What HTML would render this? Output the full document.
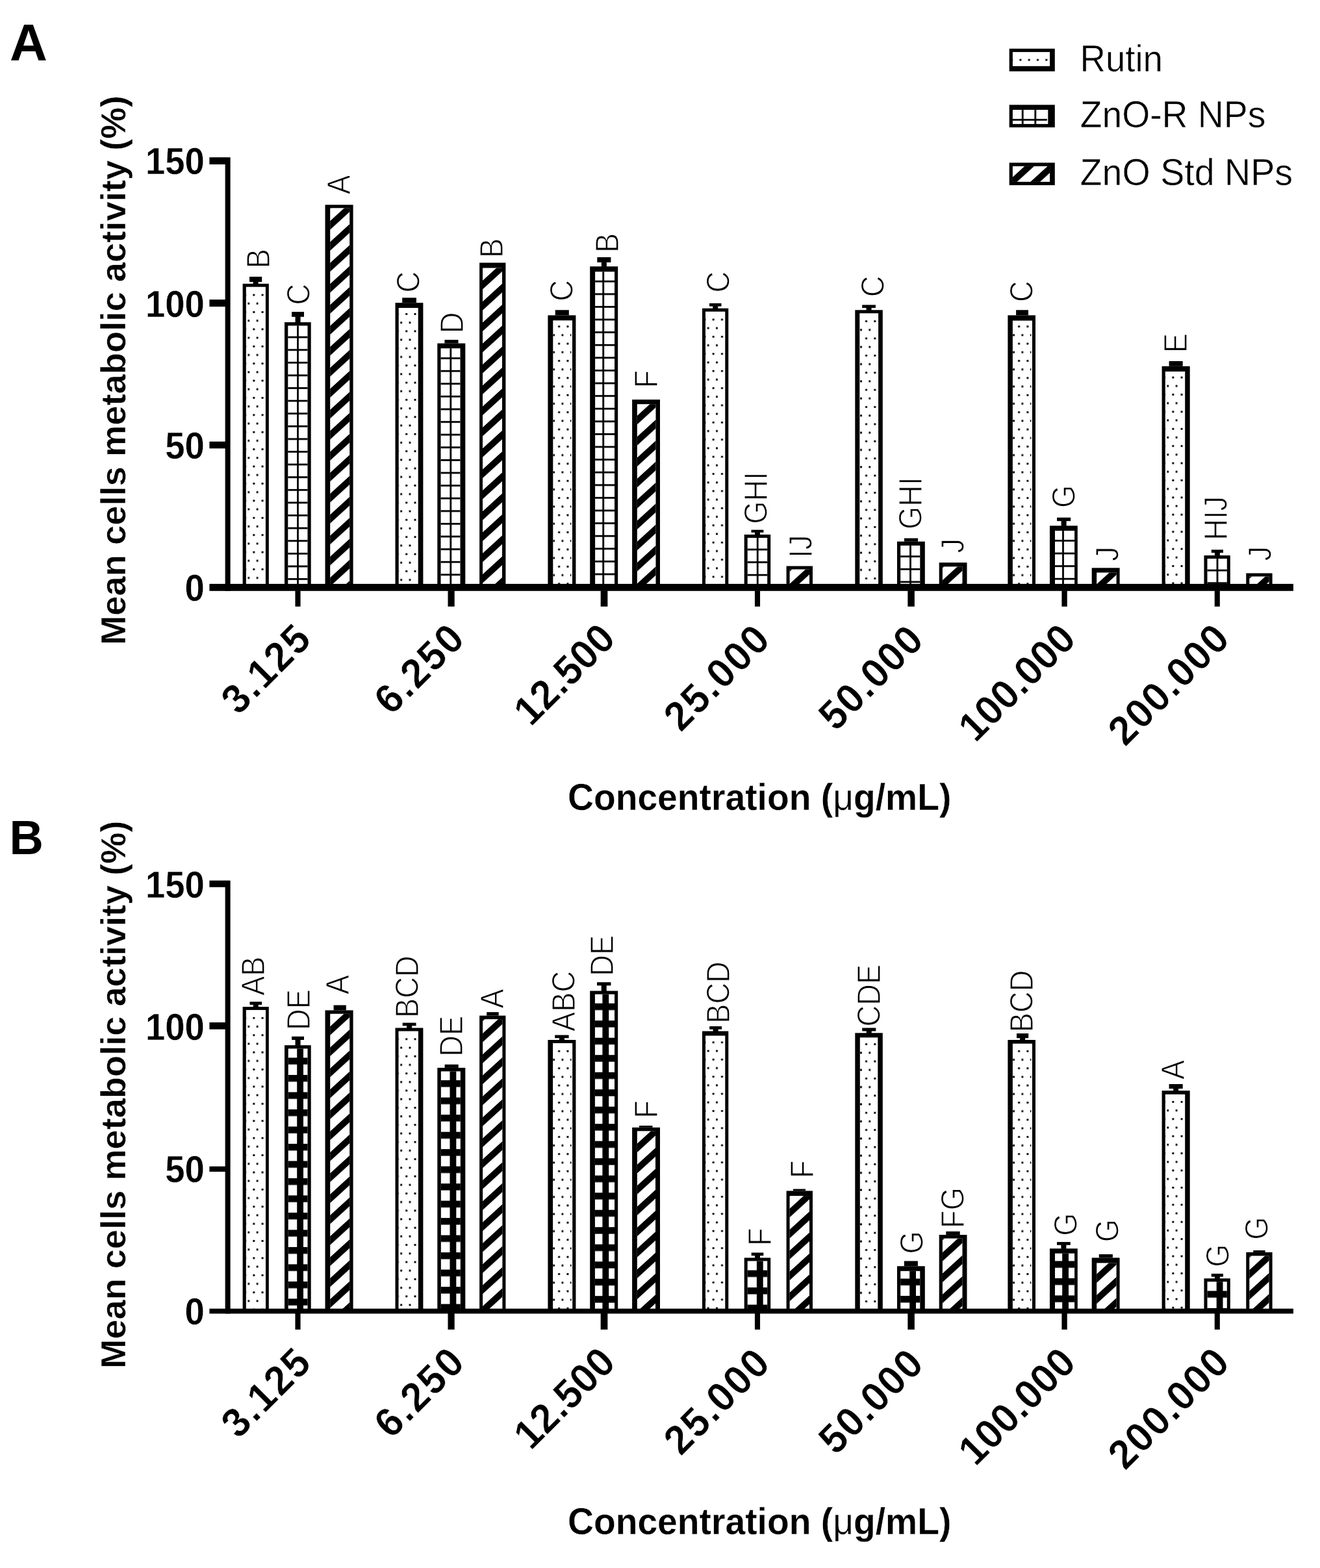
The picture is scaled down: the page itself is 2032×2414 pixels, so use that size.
<!DOCTYPE html>
<html lang="en"><head><meta charset="utf-8"><title>Mean cells metabolic activity</title>
<style>
html,body{margin:0;padding:0;background:#fff}
body{width:2032px;height:2414px;overflow:hidden}
svg{display:block}
text{fill:#000}
</style></head><body>
<svg width="2032" height="2414" viewBox="0 0 2032 2414">
<defs>
<pattern id="dots" patternUnits="userSpaceOnUse" x="7.75" y="15.85" width="13.3" height="26.4">
<rect x="8" y="0" width="2.9" height="2.9" fill="#000"/>
<rect x="0" y="13.2" width="2.9" height="2.9" fill="#000"/>
</pattern>
<pattern id="gridA" patternUnits="userSpaceOnUse" x="-0.5" y="2" width="19.6" height="19.6">
<rect x="0" y="0" width="2.8" height="19.6" fill="#000"/>
<rect x="0" y="0" width="19.6" height="2.8" fill="#000"/>
</pattern>
<pattern id="gridB" patternUnits="userSpaceOnUse" x="19.2" y="19.2" width="26.5" height="26.5">
<rect x="0" y="0" width="9.8" height="26.5" fill="#000"/>
<rect x="0" y="0" width="26.5" height="10.4" fill="#000"/>
</pattern>
<pattern id="hatch" patternUnits="userSpaceOnUse" x="0" y="-0.4" width="60" height="32.3" patternTransform="skewY(-42.4)">
<rect x="-1" y="0" width="62" height="13.4" fill="#000"/>
</pattern>
</defs>
<rect x="0" y="0" width="2032" height="2414" fill="#fff"/>

<text transform="translate(15.00,93.40) scale(1.069,1.055)" style="font-family:&quot;Liberation Sans&quot;,Arial,sans-serif;font-weight:bold;font-size:75px">A</text>
<text transform="translate(14.41,1314.60) scale(0.966,0.989)" style="font-family:&quot;Liberation Sans&quot;,Arial,sans-serif;font-weight:bold;font-size:75px">B</text>
<rect x="373.60" y="436.80" width="40.20" height="463.10" fill="#000" />
<rect x="378.80" y="441.70" width="30.10" height="458.20" fill="#fff" />
<g transform="translate(373.60,436.80)"><rect x="5.20" y="7.30" width="28.50" height="455.80" fill="url(#dots)"/></g>
<rect x="384.00" y="426.00" width="19.20" height="8.00" fill="#000" />
<rect x="389.60" y="433.50" width="8.00" height="3.80" fill="#000" />
<text transform="translate(414.70,413.15) rotate(-90) scale(1,1.085)" style="font-family:&quot;Liberation Sans&quot;,Arial,sans-serif;font-weight:normal;font-size:45.3px;stroke:#fff;stroke-width:1.1px;stroke-linejoin:round">B</text>
<rect x="438.00" y="496.10" width="40.70" height="403.80" fill="#000" />
<rect x="443.30" y="501.40" width="30.20" height="398.50" fill="#fff" />
<g transform="translate(438.00,496.10)"><rect x="5.30" y="5.30" width="30.20" height="398.50" fill="url(#gridA)"/></g>
<rect x="449.10" y="480.10" width="18.90" height="7.70" fill="#000" />
<rect x="454.55" y="487.30" width="8.00" height="9.30" fill="#000" />
<text transform="translate(476.90,469.39) rotate(-90) scale(1,1.085)" style="font-family:&quot;Liberation Sans&quot;,Arial,sans-serif;font-weight:normal;font-size:45.3px;stroke:#fff;stroke-width:1.1px;stroke-linejoin:round">C</text>
<rect x="500.50" y="315.30" width="43.10" height="584.60" fill="#000" />
<rect x="508.20" y="320.30" width="30.00" height="579.60" fill="#fff" />
<g transform="translate(500.50,315.30)"><rect x="7.70" y="5.00" width="30.00" height="579.60" fill="url(#hatch)"/></g>
<text transform="translate(538.90,299.22) rotate(-90) scale(1,1.085)" style="font-family:&quot;Liberation Sans&quot;,Arial,sans-serif;font-weight:normal;font-size:45.3px;stroke:#fff;stroke-width:1.1px;stroke-linejoin:round">A</text>
<rect x="608.50" y="466.20" width="42.90" height="433.70" fill="#000" />
<rect x="613.70" y="474.00" width="30.00" height="425.90" fill="#fff" />
<g transform="translate(608.50,466.20)"><rect x="5.20" y="7.80" width="28.40" height="425.90" fill="url(#dots)"/></g>
<rect x="619.20" y="458.40" width="21.70" height="7.80" fill="#000" />
<text transform="translate(646.35,450.54) rotate(-90) scale(1,1.085)" style="font-family:&quot;Liberation Sans&quot;,Arial,sans-serif;font-weight:normal;font-size:45.3px;stroke:#fff;stroke-width:1.1px;stroke-linejoin:round">C</text>
<rect x="673.30" y="528.60" width="43.00" height="371.30" fill="#000" />
<rect x="678.50" y="536.30" width="30.00" height="363.60" fill="#fff" />
<g transform="translate(673.30,528.60)"><rect x="5.20" y="7.70" width="30.00" height="363.60" fill="url(#gridA)"/></g>
<rect x="684.40" y="523.20" width="21.10" height="5.40" fill="#000" />
<text transform="translate(713.20,513.31) rotate(-90) scale(1,1.085)" style="font-family:&quot;Liberation Sans&quot;,Arial,sans-serif;font-weight:normal;font-size:45.3px;stroke:#fff;stroke-width:1.1px;stroke-linejoin:round">D</text>
<rect x="738.10" y="404.50" width="40.30" height="495.40" fill="#000" />
<rect x="743.00" y="412.50" width="30.00" height="487.40" fill="#fff" />
<g transform="translate(738.10,404.50)"><rect x="4.90" y="8.00" width="30.00" height="487.40" fill="url(#hatch)"/></g>
<text transform="translate(774.45,397.05) rotate(-90) scale(1,1.085)" style="font-family:&quot;Liberation Sans&quot;,Arial,sans-serif;font-weight:normal;font-size:45.3px;stroke:#fff;stroke-width:1.1px;stroke-linejoin:round">B</text>
<rect x="843.40" y="485.40" width="43.00" height="414.50" fill="#000" />
<rect x="851.30" y="493.30" width="29.70" height="406.60" fill="#fff" />
<g transform="translate(843.40,485.40)"><rect x="7.90" y="7.90" width="28.10" height="406.60" fill="url(#dots)"/></g>
<rect x="854.70" y="477.30" width="21.10" height="8.10" fill="#000" />
<text transform="translate(882.30,463.64) rotate(-90) scale(1,1.085)" style="font-family:&quot;Liberation Sans&quot;,Arial,sans-serif;font-weight:normal;font-size:45.3px;stroke:#fff;stroke-width:1.1px;stroke-linejoin:round">C</text>
<rect x="908.20" y="410.20" width="43.00" height="489.70" fill="#000" />
<rect x="916.10" y="418.30" width="29.90" height="481.60" fill="#fff" />
<g transform="translate(908.20,410.20)"><rect x="7.90" y="8.10" width="29.90" height="481.60" fill="url(#gridA)"/></g>
<rect x="919.30" y="396.00" width="21.10" height="7.90" fill="#000" />
<rect x="925.85" y="403.40" width="8.00" height="7.30" fill="#000" />
<text transform="translate(952.05,389.00) rotate(-90) scale(1,1.085)" style="font-family:&quot;Liberation Sans&quot;,Arial,sans-serif;font-weight:normal;font-size:45.3px;stroke:#fff;stroke-width:1.1px;stroke-linejoin:round">B</text>
<rect x="973.10" y="615.20" width="42.90" height="284.70" fill="#000" />
<rect x="980.80" y="622.20" width="28.70" height="277.70" fill="#fff" />
<g transform="translate(973.10,615.20)"><rect x="7.70" y="7.00" width="28.70" height="277.70" fill="url(#hatch)"/></g>
<text transform="translate(1011.55,597.48) rotate(-90) scale(1,1.085)" style="font-family:&quot;Liberation Sans&quot;,Arial,sans-serif;font-weight:normal;font-size:45.3px;stroke:#fff;stroke-width:1.1px;stroke-linejoin:round">F</text>
<rect x="1081.00" y="474.70" width="40.30" height="425.20" fill="#000" />
<rect x="1086.00" y="479.70" width="30.30" height="420.20" fill="#fff" />
<g transform="translate(1081.00,474.70)"><rect x="5.00" y="7.30" width="28.70" height="417.90" fill="url(#dots)"/></g>
<rect x="1092.00" y="466.90" width="18.50" height="4.70" fill="#000" />
<rect x="1097.25" y="471.10" width="8.00" height="4.10" fill="#000" />
<text transform="translate(1122.85,450.54) rotate(-90) scale(1,1.085)" style="font-family:&quot;Liberation Sans&quot;,Arial,sans-serif;font-weight:normal;font-size:45.3px;stroke:#fff;stroke-width:1.1px;stroke-linejoin:round">C</text>
<rect x="1145.70" y="823.00" width="40.50" height="76.90" fill="#000" />
<rect x="1150.70" y="828.00" width="30.50" height="71.90" fill="#fff" />
<g transform="translate(1145.70,823.00)"><rect x="5.00" y="5.00" width="30.50" height="71.90" fill="url(#gridA)"/></g>
<rect x="1156.50" y="815.70" width="18.90" height="4.10" fill="#000" />
<rect x="1161.95" y="819.30" width="8.00" height="4.20" fill="#000" />
<text transform="translate(1180.90,806.85) rotate(-90) scale(1,1.085)" style="font-family:&quot;Liberation Sans&quot;,Arial,sans-serif;font-weight:normal;font-size:45.3px;stroke:#fff;stroke-width:1.1px;stroke-linejoin:round">GHI</text>
<rect x="1210.60" y="871.50" width="40.40" height="28.40" fill="#000" />
<rect x="1215.60" y="876.50" width="30.40" height="23.40" fill="#fff" />
<g transform="translate(1210.60,871.50)"><rect x="5.00" y="5.00" width="30.40" height="23.40" fill="url(#hatch)"/></g>
<text transform="translate(1250.30,858.76) rotate(-90) scale(1,1.085)" style="font-family:&quot;Liberation Sans&quot;,Arial,sans-serif;font-weight:normal;font-size:45.3px;stroke:#fff;stroke-width:1.1px;stroke-linejoin:round">IJ</text>
<rect x="1316.30" y="477.30" width="42.50" height="422.60" fill="#000" />
<rect x="1323.30" y="482.30" width="28.80" height="417.60" fill="#fff" />
<g transform="translate(1316.30,477.30)"><rect x="7.00" y="7.30" width="27.20" height="415.30" fill="url(#dots)"/></g>
<rect x="1327.20" y="469.40" width="20.70" height="4.70" fill="#000" />
<rect x="1333.55" y="473.60" width="8.00" height="4.20" fill="#000" />
<text transform="translate(1360.75,457.14) rotate(-90) scale(1,1.085)" style="font-family:&quot;Liberation Sans&quot;,Arial,sans-serif;font-weight:normal;font-size:45.3px;stroke:#fff;stroke-width:1.1px;stroke-linejoin:round">C</text>
<rect x="1381.00" y="833.70" width="42.80" height="66.20" fill="#000" />
<rect x="1386.20" y="839.90" width="30.10" height="60.00" fill="#fff" />
<g transform="translate(1381.00,833.70)"><rect x="5.20" y="6.20" width="30.10" height="60.00" fill="url(#gridA)"/></g>
<rect x="1392.00" y="828.60" width="21.10" height="5.10" fill="#000" />
<text transform="translate(1419.15,814.90) rotate(-90) scale(1,1.085)" style="font-family:&quot;Liberation Sans&quot;,Arial,sans-serif;font-weight:normal;font-size:45.3px;stroke:#fff;stroke-width:1.1px;stroke-linejoin:round">GHI</text>
<rect x="1445.70" y="866.10" width="42.80" height="33.80" fill="#000" />
<rect x="1450.90" y="872.30" width="30.60" height="27.60" fill="#fff" />
<g transform="translate(1445.70,866.10)"><rect x="5.20" y="6.20" width="30.60" height="27.60" fill="url(#hatch)"/></g>
<text transform="translate(1484.10,851.52) rotate(-90) scale(1,1.085)" style="font-family:&quot;Liberation Sans&quot;,Arial,sans-serif;font-weight:normal;font-size:45.3px;stroke:#fff;stroke-width:1.1px;stroke-linejoin:round">J</text>
<rect x="1551.40" y="485.40" width="42.60" height="414.50" fill="#000" />
<rect x="1558.90" y="493.60" width="30.10" height="406.30" fill="#fff" />
<g transform="translate(1551.40,485.40)"><rect x="7.50" y="8.20" width="28.50" height="406.30" fill="url(#dots)"/></g>
<rect x="1564.10" y="477.30" width="18.90" height="8.10" fill="#000" />
<text transform="translate(1590.00,465.04) rotate(-90) scale(1,1.085)" style="font-family:&quot;Liberation Sans&quot;,Arial,sans-serif;font-weight:normal;font-size:45.3px;stroke:#fff;stroke-width:1.1px;stroke-linejoin:round">C</text>
<rect x="1616.00" y="809.40" width="42.80" height="90.50" fill="#000" />
<rect x="1624.00" y="817.10" width="30.10" height="82.80" fill="#fff" />
<g transform="translate(1616.00,809.40)"><rect x="8.00" y="7.70" width="30.10" height="82.80" fill="url(#gridA)"/></g>
<rect x="1627.10" y="796.80" width="21.10" height="5.40" fill="#000" />
<rect x="1633.65" y="801.70" width="8.00" height="8.20" fill="#000" />
<text transform="translate(1654.55,781.89) rotate(-90) scale(1,1.085)" style="font-family:&quot;Liberation Sans&quot;,Arial,sans-serif;font-weight:normal;font-size:45.3px;stroke:#fff;stroke-width:1.1px;stroke-linejoin:round">G</text>
<rect x="1680.70" y="874.30" width="42.90" height="25.60" fill="#000" />
<rect x="1688.20" y="881.50" width="30.40" height="18.40" fill="#fff" />
<g transform="translate(1680.70,874.30)"><rect x="7.50" y="7.20" width="30.40" height="18.40" fill="url(#hatch)"/></g>
<text transform="translate(1722.45,863.97) rotate(-90) scale(1,1.085)" style="font-family:&quot;Liberation Sans&quot;,Arial,sans-serif;font-weight:normal;font-size:45.3px;stroke:#fff;stroke-width:1.1px;stroke-linejoin:round">J</text>
<rect x="1788.60" y="563.80" width="43.10" height="336.10" fill="#000" />
<rect x="1793.80" y="572.00" width="30.40" height="327.90" fill="#fff" />
<g transform="translate(1788.60,563.80)"><rect x="5.20" y="8.20" width="28.80" height="327.90" fill="url(#dots)"/></g>
<rect x="1799.60" y="556.00" width="21.10" height="7.80" fill="#000" />
<text transform="translate(1827.10,543.17) rotate(-90) scale(1,1.085)" style="font-family:&quot;Liberation Sans&quot;,Arial,sans-serif;font-weight:normal;font-size:45.3px;stroke:#fff;stroke-width:1.1px;stroke-linejoin:round">E</text>
<rect x="1853.50" y="855.10" width="40.30" height="44.80" fill="#000" />
<rect x="1858.50" y="860.10" width="30.30" height="39.80" fill="#fff" />
<g transform="translate(1853.50,855.10)"><rect x="5.00" y="5.00" width="30.30" height="39.80" fill="url(#gridA)"/></g>
<rect x="1864.80" y="846.30" width="18.20" height="4.70" fill="#000" />
<rect x="1869.90" y="850.50" width="8.00" height="5.10" fill="#000" />
<text transform="translate(1889.15,831.79) rotate(-90) scale(1,1.085)" style="font-family:&quot;Liberation Sans&quot;,Arial,sans-serif;font-weight:normal;font-size:45.3px;stroke:#fff;stroke-width:1.1px;stroke-linejoin:round">HIJ</text>
<rect x="1918.30" y="882.50" width="40.30" height="17.40" fill="#000" />
<rect x="1923.30" y="887.50" width="30.30" height="12.40" fill="#fff" />
<g transform="translate(1918.30,882.50)"><rect x="5.00" y="5.00" width="30.30" height="12.40" fill="url(#hatch)"/></g>
<text transform="translate(1956.55,863.47) rotate(-90) scale(1,1.085)" style="font-family:&quot;Liberation Sans&quot;,Arial,sans-serif;font-weight:normal;font-size:45.3px;stroke:#fff;stroke-width:1.1px;stroke-linejoin:round">J</text>
<rect x="346.60" y="242.20" width="8.00" height="667.60" fill="#000" />
<rect x="322.40" y="898.90" width="1668.60" height="10.90" fill="#000" />
<rect x="322.40" y="242.20" width="24.60" height="10.90" fill="#000" />
<rect x="322.40" y="461.20" width="24.60" height="10.90" fill="#000" />
<rect x="322.40" y="679.80" width="24.60" height="10.60" fill="#000" />
<rect x="454.45" y="909.30" width="8.10" height="24.50" fill="#000" />
<rect x="689.50" y="909.30" width="10.20" height="24.50" fill="#000" />
<rect x="924.65" y="909.30" width="10.70" height="24.50" fill="#000" />
<rect x="1161.95" y="909.30" width="8.10" height="24.50" fill="#000" />
<rect x="1397.35" y="909.30" width="10.50" height="24.50" fill="#000" />
<rect x="1634.45" y="909.30" width="8.30" height="24.50" fill="#000" />
<rect x="1869.75" y="909.30" width="8.10" height="24.50" fill="#000" />
<text transform="translate(224.01,268.26) scale(1,1.046)" style="font-family:&quot;Liberation Sans&quot;,Arial,sans-serif;font-weight:bold;font-size:54.4px;stroke:#fff;stroke-width:0.3px;stroke-linejoin:round">150</text>
<text transform="translate(224.01,487.56) scale(1,1.046)" style="font-family:&quot;Liberation Sans&quot;,Arial,sans-serif;font-weight:bold;font-size:54.4px;stroke:#fff;stroke-width:0.3px;stroke-linejoin:round">100</text>
<text transform="translate(254.34,706.46) scale(1,1.046)" style="font-family:&quot;Liberation Sans&quot;,Arial,sans-serif;font-weight:bold;font-size:54.4px;stroke:#fff;stroke-width:0.3px;stroke-linejoin:round">50</text>
<text transform="translate(284.53,925.46) scale(1,1.046)" style="font-family:&quot;Liberation Sans&quot;,Arial,sans-serif;font-weight:bold;font-size:54.4px;stroke:#fff;stroke-width:0.3px;stroke-linejoin:round">0</text>
<text transform="translate(193.0,993.12) rotate(-90) scale(1,1.0)" style="font-family:&quot;Liberation Sans&quot;,Arial,sans-serif;font-weight:bold;font-size:54.36px;stroke:#fff;stroke-width:0.5px;stroke-linejoin:round">Mean cells metabolic activity (%)</text>
<text transform="translate(873.99,1247.20) scale(1,1.035)" style="font-family:&quot;Liberation Sans&quot;,Arial,sans-serif;font-weight:bold;font-size:55.25px;white-space:pre;stroke:#fff;stroke-width:0.3px;stroke-linejoin:round">Concentration (<tspan style="font-family:&quot;Liberation Sans&quot;,Arial,sans-serif;font-weight:normal">μ</tspan>g/mL)</text>
<text transform="translate(366.83,1102.58) rotate(-45) scale(1,1.03)" style="font-family:&quot;Liberation Sans&quot;,Arial,sans-serif;font-weight:bold;font-size:61.0px;letter-spacing:2.49px;stroke:#fff;stroke-width:0.6px;stroke-linejoin:round">3.125</text>
<text transform="translate(602.33,1102.63) rotate(-45) scale(1,1.03)" style="font-family:&quot;Liberation Sans&quot;,Arial,sans-serif;font-weight:bold;font-size:61.0px;letter-spacing:2.75px;stroke:#fff;stroke-width:0.6px;stroke-linejoin:round">6.250</text>
<text transform="translate(817.04,1119.99) rotate(-45) scale(1,1.03)" style="font-family:&quot;Liberation Sans&quot;,Arial,sans-serif;font-weight:bold;font-size:61.0px;letter-spacing:0.45px;stroke:#fff;stroke-width:0.6px;stroke-linejoin:round">12.500</text>
<text transform="translate(1048.02,1128.51) rotate(-45) scale(1,1.03)" style="font-family:&quot;Liberation Sans&quot;,Arial,sans-serif;font-weight:bold;font-size:61.0px;letter-spacing:2.38px;stroke:#fff;stroke-width:0.6px;stroke-linejoin:round">25.000</text>
<text transform="translate(1286.37,1127.44) rotate(-45) scale(1,1.03)" style="font-family:&quot;Liberation Sans&quot;,Arial,sans-serif;font-weight:bold;font-size:61.0px;letter-spacing:1.84px;stroke:#fff;stroke-width:0.6px;stroke-linejoin:round">50.000</text>
<text transform="translate(1501.47,1144.82) rotate(-45) scale(1,1.03)" style="font-family:&quot;Liberation Sans&quot;,Arial,sans-serif;font-weight:bold;font-size:61.0px;letter-spacing:0.46px;stroke:#fff;stroke-width:0.6px;stroke-linejoin:round">100.000</text>
<text transform="translate(1731.99,1150.78) rotate(-45) scale(1,1.03)" style="font-family:&quot;Liberation Sans&quot;,Arial,sans-serif;font-weight:bold;font-size:61.0px;letter-spacing:1.83px;stroke:#fff;stroke-width:0.6px;stroke-linejoin:round">200.000</text>
<rect x="373.60" y="1550.00" width="40.20" height="465.70" fill="#000" />
<rect x="378.80" y="1554.90" width="30.20" height="460.80" fill="#fff" />
<g transform="translate(373.60,1550.00)"><rect x="5.20" y="7.30" width="28.60" height="458.40" fill="url(#dots)"/></g>
<rect x="384.50" y="1542.20" width="18.60" height="4.70" fill="#000" />
<rect x="389.80" y="1546.40" width="8.00" height="4.10" fill="#000" />
<text transform="translate(406.80,1532.86) rotate(-90) scale(1,1.085)" style="font-family:&quot;Liberation Sans&quot;,Arial,sans-serif;font-weight:normal;font-size:45.3px;stroke:#fff;stroke-width:1.1px;stroke-linejoin:round">AB</text>
<rect x="438.00" y="1609.20" width="40.70" height="406.50" fill="#000" />
<rect x="443.70" y="1614.40" width="29.80" height="401.30" fill="#fff" />
<g transform="translate(438.00,1609.20)"><rect x="5.70" y="5.20" width="29.80" height="401.30" fill="url(#gridB)"/></g>
<rect x="449.10" y="1595.70" width="18.90" height="5.30" fill="#000" />
<rect x="454.55" y="1600.50" width="8.00" height="9.20" fill="#000" />
<text transform="translate(477.00,1585.89) rotate(-90) scale(1,1.085)" style="font-family:&quot;Liberation Sans&quot;,Arial,sans-serif;font-weight:normal;font-size:45.3px;stroke:#fff;stroke-width:1.1px;stroke-linejoin:round">DE</text>
<rect x="500.50" y="1555.40" width="43.10" height="460.30" fill="#000" />
<rect x="508.20" y="1560.80" width="30.00" height="454.90" fill="#fff" />
<g transform="translate(500.50,1555.40)"><rect x="7.70" y="5.40" width="30.00" height="454.90" fill="url(#hatch)"/></g>
<rect x="513.60" y="1547.50" width="19.20" height="7.90" fill="#000" />
<text transform="translate(537.00,1530.97) rotate(-90) scale(1,1.085)" style="font-family:&quot;Liberation Sans&quot;,Arial,sans-serif;font-weight:normal;font-size:45.3px;stroke:#fff;stroke-width:1.1px;stroke-linejoin:round">A</text>
<rect x="608.50" y="1582.50" width="42.90" height="433.20" fill="#000" />
<rect x="613.50" y="1587.50" width="30.40" height="428.20" fill="#fff" />
<g transform="translate(608.50,1582.50)"><rect x="5.00" y="7.30" width="28.80" height="425.90" fill="url(#dots)"/></g>
<rect x="619.70" y="1574.60" width="20.80" height="4.70" fill="#000" />
<rect x="626.10" y="1578.80" width="8.00" height="4.20" fill="#000" />
<text transform="translate(643.90,1566.99) rotate(-90) scale(1,1.085)" style="font-family:&quot;Liberation Sans&quot;,Arial,sans-serif;font-weight:normal;font-size:45.3px;stroke:#fff;stroke-width:1.1px;stroke-linejoin:round">BCD</text>
<rect x="673.30" y="1643.90" width="43.00" height="371.80" fill="#000" />
<rect x="678.80" y="1649.40" width="30.00" height="366.30" fill="#fff" />
<g transform="translate(673.30,1643.90)"><rect x="5.50" y="5.50" width="30.00" height="366.30" fill="url(#gridB)"/></g>
<rect x="684.60" y="1638.80" width="21.10" height="5.10" fill="#000" />
<text transform="translate(712.05,1626.79) rotate(-90) scale(1,1.085)" style="font-family:&quot;Liberation Sans&quot;,Arial,sans-serif;font-weight:normal;font-size:45.3px;stroke:#fff;stroke-width:1.1px;stroke-linejoin:round">DE</text>
<rect x="738.10" y="1563.60" width="40.30" height="452.10" fill="#000" />
<rect x="743.10" y="1569.10" width="30.30" height="446.60" fill="#fff" />
<g transform="translate(738.10,1563.60)"><rect x="5.00" y="5.50" width="30.30" height="446.60" fill="url(#hatch)"/></g>
<rect x="749.20" y="1558.20" width="18.50" height="5.40" fill="#000" />
<text transform="translate(775.35,1552.52) rotate(-90) scale(1,1.085)" style="font-family:&quot;Liberation Sans&quot;,Arial,sans-serif;font-weight:normal;font-size:45.3px;stroke:#fff;stroke-width:1.1px;stroke-linejoin:round">A</text>
<rect x="843.40" y="1601.00" width="43.00" height="414.70" fill="#000" />
<rect x="851.10" y="1606.00" width="30.10" height="409.70" fill="#fff" />
<g transform="translate(843.40,1601.00)"><rect x="7.70" y="7.30" width="28.50" height="407.40" fill="url(#dots)"/></g>
<rect x="854.20" y="1593.50" width="21.40" height="4.70" fill="#000" />
<rect x="860.90" y="1597.70" width="8.00" height="3.80" fill="#000" />
<text transform="translate(885.35,1587.90) rotate(-90) scale(1,1.085)" style="font-family:&quot;Liberation Sans&quot;,Arial,sans-serif;font-weight:normal;font-size:45.3px;stroke:#fff;stroke-width:1.1px;stroke-linejoin:round">ABC</text>
<rect x="908.20" y="1525.50" width="43.00" height="490.20" fill="#000" />
<rect x="915.90" y="1530.70" width="30.10" height="485.00" fill="#fff" />
<g transform="translate(908.20,1525.50)"><rect x="7.70" y="5.20" width="30.10" height="485.00" fill="url(#gridB)"/></g>
<rect x="919.00" y="1512.20" width="21.40" height="5.10" fill="#000" />
<rect x="925.70" y="1516.80" width="8.00" height="9.20" fill="#000" />
<text transform="translate(944.40,1502.74) rotate(-90) scale(1,1.085)" style="font-family:&quot;Liberation Sans&quot;,Arial,sans-serif;font-weight:normal;font-size:45.3px;stroke:#fff;stroke-width:1.1px;stroke-linejoin:round">DE</text>
<rect x="973.10" y="1735.80" width="42.90" height="279.90" fill="#000" />
<rect x="980.80" y="1741.30" width="28.20" height="274.40" fill="#fff" />
<g transform="translate(973.10,1735.80)"><rect x="7.70" y="5.50" width="28.20" height="274.40" fill="url(#hatch)"/></g>
<rect x="984.00" y="1733.00" width="20.50" height="2.80" fill="#000" />
<text transform="translate(1011.65,1721.73) rotate(-90) scale(1,1.085)" style="font-family:&quot;Liberation Sans&quot;,Arial,sans-serif;font-weight:normal;font-size:45.3px;stroke:#fff;stroke-width:1.1px;stroke-linejoin:round">F</text>
<rect x="1081.00" y="1587.50" width="40.30" height="428.20" fill="#000" />
<rect x="1086.00" y="1594.50" width="30.30" height="421.20" fill="#fff" />
<g transform="translate(1081.00,1587.50)"><rect x="5.00" y="7.30" width="28.70" height="420.90" fill="url(#dots)"/></g>
<rect x="1092.20" y="1580.00" width="18.90" height="4.70" fill="#000" />
<rect x="1097.65" y="1584.20" width="8.00" height="3.80" fill="#000" />
<text transform="translate(1122.75,1575.79) rotate(-90) scale(1,1.085)" style="font-family:&quot;Liberation Sans&quot;,Arial,sans-serif;font-weight:normal;font-size:45.3px;stroke:#fff;stroke-width:1.1px;stroke-linejoin:round">BCD</text>
<rect x="1145.70" y="1936.40" width="40.50" height="79.30" fill="#000" />
<rect x="1150.70" y="1941.40" width="30.50" height="74.30" fill="#fff" />
<g transform="translate(1145.70,1936.40)"><rect x="5.00" y="5.00" width="30.50" height="74.30" fill="url(#gridB)"/></g>
<rect x="1156.70" y="1928.50" width="18.60" height="4.70" fill="#000" />
<rect x="1162.00" y="1932.70" width="8.00" height="4.20" fill="#000" />
<text transform="translate(1186.85,1917.93) rotate(-90) scale(1,1.085)" style="font-family:&quot;Liberation Sans&quot;,Arial,sans-serif;font-weight:normal;font-size:45.3px;stroke:#fff;stroke-width:1.1px;stroke-linejoin:round">F</text>
<rect x="1210.60" y="1833.40" width="40.40" height="182.30" fill="#000" />
<rect x="1215.60" y="1841.10" width="30.40" height="174.60" fill="#fff" />
<g transform="translate(1210.60,1833.40)"><rect x="5.00" y="7.70" width="30.40" height="174.60" fill="url(#hatch)"/></g>
<rect x="1221.00" y="1830.50" width="19.00" height="2.90" fill="#000" />
<text transform="translate(1251.90,1813.88) rotate(-90) scale(1,1.085)" style="font-family:&quot;Liberation Sans&quot;,Arial,sans-serif;font-weight:normal;font-size:45.3px;stroke:#fff;stroke-width:1.1px;stroke-linejoin:round">F</text>
<rect x="1316.30" y="1590.30" width="42.50" height="425.40" fill="#000" />
<rect x="1323.80" y="1597.30" width="27.50" height="418.40" fill="#fff" />
<g transform="translate(1316.30,1590.30)"><rect x="7.50" y="7.30" width="25.90" height="418.10" fill="url(#dots)"/></g>
<rect x="1327.20" y="1582.50" width="21.10" height="5.00" fill="#000" />
<rect x="1333.75" y="1587.00" width="8.00" height="3.80" fill="#000" />
<text transform="translate(1354.65,1580.42) rotate(-90) scale(1,1.085)" style="font-family:&quot;Liberation Sans&quot;,Arial,sans-serif;font-weight:normal;font-size:45.3px;stroke:#fff;stroke-width:1.1px;stroke-linejoin:round">CDE</text>
<rect x="1381.00" y="1949.30" width="42.80" height="66.40" fill="#000" />
<rect x="1386.20" y="1956.80" width="30.10" height="58.90" fill="#fff" />
<g transform="translate(1381.00,1949.30)"><rect x="5.20" y="7.50" width="30.10" height="58.90" fill="url(#gridB)"/></g>
<rect x="1391.80" y="1941.40" width="21.10" height="7.90" fill="#000" />
<text transform="translate(1420.90,1930.39) rotate(-90) scale(1,1.085)" style="font-family:&quot;Liberation Sans&quot;,Arial,sans-serif;font-weight:normal;font-size:45.3px;stroke:#fff;stroke-width:1.1px;stroke-linejoin:round">G</text>
<rect x="1445.70" y="1901.10" width="42.80" height="114.60" fill="#000" />
<rect x="1450.90" y="1906.60" width="30.60" height="109.10" fill="#fff" />
<g transform="translate(1445.70,1901.10)"><rect x="5.20" y="5.50" width="30.60" height="109.10" fill="url(#hatch)"/></g>
<rect x="1456.30" y="1895.80" width="21.40" height="5.30" fill="#000" />
<text transform="translate(1483.90,1891.00) rotate(-90) scale(1,1.085)" style="font-family:&quot;Liberation Sans&quot;,Arial,sans-serif;font-weight:normal;font-size:45.3px;stroke:#fff;stroke-width:1.1px;stroke-linejoin:round">FG</text>
<rect x="1551.40" y="1601.00" width="42.60" height="414.70" fill="#000" />
<rect x="1558.90" y="1606.70" width="30.10" height="409.00" fill="#fff" />
<g transform="translate(1551.40,1601.00)"><rect x="7.50" y="7.30" width="28.50" height="407.40" fill="url(#dots)"/></g>
<rect x="1565.00" y="1591.00" width="18.20" height="7.20" fill="#000" />
<rect x="1570.10" y="1597.70" width="8.00" height="3.80" fill="#000" />
<text transform="translate(1590.15,1589.24) rotate(-90) scale(1,1.085)" style="font-family:&quot;Liberation Sans&quot;,Arial,sans-serif;font-weight:normal;font-size:45.3px;stroke:#fff;stroke-width:1.1px;stroke-linejoin:round">BCD</text>
<rect x="1616.00" y="1922.20" width="42.80" height="93.50" fill="#000" />
<rect x="1624.00" y="1929.70" width="30.10" height="86.00" fill="#fff" />
<g transform="translate(1616.00,1922.20)"><rect x="8.00" y="7.50" width="30.10" height="86.00" fill="url(#gridB)"/></g>
<rect x="1627.00" y="1912.10" width="20.80" height="4.70" fill="#000" />
<rect x="1633.40" y="1916.30" width="8.00" height="6.40" fill="#000" />
<text transform="translate(1657.70,1902.69) rotate(-90) scale(1,1.085)" style="font-family:&quot;Liberation Sans&quot;,Arial,sans-serif;font-weight:normal;font-size:45.3px;stroke:#fff;stroke-width:1.1px;stroke-linejoin:round">G</text>
<rect x="1680.70" y="1936.40" width="42.90" height="79.30" fill="#000" />
<rect x="1688.20" y="1944.40" width="30.40" height="71.30" fill="#fff" />
<g transform="translate(1680.70,1936.40)"><rect x="7.50" y="8.00" width="30.40" height="71.30" fill="url(#hatch)"/></g>
<rect x="1691.80" y="1931.00" width="21.10" height="5.40" fill="#000" />
<text transform="translate(1721.80,1912.14) rotate(-90) scale(1,1.085)" style="font-family:&quot;Liberation Sans&quot;,Arial,sans-serif;font-weight:normal;font-size:45.3px;stroke:#fff;stroke-width:1.1px;stroke-linejoin:round">G</text>
<rect x="1788.60" y="1679.10" width="43.10" height="336.60" fill="#000" />
<rect x="1793.80" y="1684.80" width="30.40" height="330.90" fill="#fff" />
<g transform="translate(1788.60,1679.10)"><rect x="5.20" y="7.30" width="28.80" height="329.30" fill="url(#dots)"/></g>
<rect x="1799.60" y="1669.00" width="21.10" height="7.00" fill="#000" />
<rect x="1806.15" y="1675.50" width="8.00" height="4.10" fill="#000" />
<text transform="translate(1822.80,1661.97) rotate(-90) scale(1,1.085)" style="font-family:&quot;Liberation Sans&quot;,Arial,sans-serif;font-weight:normal;font-size:45.3px;stroke:#fff;stroke-width:1.1px;stroke-linejoin:round">A</text>
<rect x="1853.50" y="1968.20" width="40.30" height="47.50" fill="#000" />
<rect x="1858.50" y="1973.20" width="30.30" height="42.50" fill="#fff" />
<g transform="translate(1853.50,1968.20)"><rect x="5.00" y="5.00" width="30.30" height="42.50" fill="url(#gridB)"/></g>
<rect x="1864.80" y="1960.90" width="18.20" height="4.70" fill="#000" />
<rect x="1869.90" y="1965.10" width="8.00" height="3.60" fill="#000" />
<text transform="translate(1891.75,1950.69) rotate(-90) scale(1,1.085)" style="font-family:&quot;Liberation Sans&quot;,Arial,sans-serif;font-weight:normal;font-size:45.3px;stroke:#fff;stroke-width:1.1px;stroke-linejoin:round">G</text>
<rect x="1918.30" y="1927.90" width="40.30" height="87.80" fill="#000" />
<rect x="1923.30" y="1933.40" width="30.30" height="82.30" fill="#fff" />
<g transform="translate(1918.30,1927.90)"><rect x="5.00" y="5.50" width="30.30" height="82.30" fill="url(#hatch)"/></g>
<rect x="1929.30" y="1925.00" width="18.30" height="2.90" fill="#000" />
<text transform="translate(1952.20,1908.69) rotate(-90) scale(1,1.085)" style="font-family:&quot;Liberation Sans&quot;,Arial,sans-serif;font-weight:normal;font-size:45.3px;stroke:#fff;stroke-width:1.1px;stroke-linejoin:round">G</text>
<rect x="346.60" y="1355.60" width="8.00" height="666.80" fill="#000" />
<rect x="322.40" y="2014.70" width="1668.60" height="7.70" fill="#000" />
<rect x="322.40" y="1355.60" width="24.60" height="10.20" fill="#000" />
<rect x="322.40" y="1574.00" width="24.60" height="10.70" fill="#000" />
<rect x="322.40" y="1795.70" width="24.60" height="8.20" fill="#000" />
<rect x="454.45" y="2021.90" width="8.10" height="25.00" fill="#000" />
<rect x="689.50" y="2021.90" width="10.20" height="25.00" fill="#000" />
<rect x="924.65" y="2021.90" width="10.70" height="25.00" fill="#000" />
<rect x="1161.95" y="2021.90" width="8.10" height="25.00" fill="#000" />
<rect x="1397.35" y="2021.90" width="10.50" height="25.00" fill="#000" />
<rect x="1634.45" y="2021.90" width="8.30" height="25.00" fill="#000" />
<rect x="1869.75" y="2021.90" width="8.10" height="25.00" fill="#000" />
<text transform="translate(224.01,1381.76) scale(1,1.046)" style="font-family:&quot;Liberation Sans&quot;,Arial,sans-serif;font-weight:bold;font-size:54.4px;stroke:#fff;stroke-width:0.3px;stroke-linejoin:round">150</text>
<text transform="translate(224.01,1600.56) scale(1,1.046)" style="font-family:&quot;Liberation Sans&quot;,Arial,sans-serif;font-weight:bold;font-size:54.4px;stroke:#fff;stroke-width:0.3px;stroke-linejoin:round">100</text>
<text transform="translate(254.34,1819.56) scale(1,1.046)" style="font-family:&quot;Liberation Sans&quot;,Arial,sans-serif;font-weight:bold;font-size:54.4px;stroke:#fff;stroke-width:0.3px;stroke-linejoin:round">50</text>
<text transform="translate(284.53,2038.76) scale(1,1.046)" style="font-family:&quot;Liberation Sans&quot;,Arial,sans-serif;font-weight:bold;font-size:54.4px;stroke:#fff;stroke-width:0.3px;stroke-linejoin:round">0</text>
<text transform="translate(193.0,2106.71) rotate(-90) scale(1,1.0)" style="font-family:&quot;Liberation Sans&quot;,Arial,sans-serif;font-weight:bold;font-size:54.20px;stroke:#fff;stroke-width:0.5px;stroke-linejoin:round">Mean cells metabolic activity (%)</text>
<text transform="translate(873.99,2361.90) scale(1,1.035)" style="font-family:&quot;Liberation Sans&quot;,Arial,sans-serif;font-weight:bold;font-size:55.25px;white-space:pre;stroke:#fff;stroke-width:0.3px;stroke-linejoin:round">Concentration (<tspan style="font-family:&quot;Liberation Sans&quot;,Arial,sans-serif;font-weight:normal">μ</tspan>g/mL)</text>
<text transform="translate(366.83,2216.78) rotate(-45) scale(1,1.03)" style="font-family:&quot;Liberation Sans&quot;,Arial,sans-serif;font-weight:bold;font-size:61.0px;letter-spacing:2.49px;stroke:#fff;stroke-width:0.6px;stroke-linejoin:round">3.125</text>
<text transform="translate(602.33,2216.83) rotate(-45) scale(1,1.03)" style="font-family:&quot;Liberation Sans&quot;,Arial,sans-serif;font-weight:bold;font-size:61.0px;letter-spacing:2.75px;stroke:#fff;stroke-width:0.6px;stroke-linejoin:round">6.250</text>
<text transform="translate(817.04,2234.19) rotate(-45) scale(1,1.03)" style="font-family:&quot;Liberation Sans&quot;,Arial,sans-serif;font-weight:bold;font-size:61.0px;letter-spacing:0.45px;stroke:#fff;stroke-width:0.6px;stroke-linejoin:round">12.500</text>
<text transform="translate(1048.02,2242.71) rotate(-45) scale(1,1.03)" style="font-family:&quot;Liberation Sans&quot;,Arial,sans-serif;font-weight:bold;font-size:61.0px;letter-spacing:2.38px;stroke:#fff;stroke-width:0.6px;stroke-linejoin:round">25.000</text>
<text transform="translate(1286.37,2241.64) rotate(-45) scale(1,1.03)" style="font-family:&quot;Liberation Sans&quot;,Arial,sans-serif;font-weight:bold;font-size:61.0px;letter-spacing:1.84px;stroke:#fff;stroke-width:0.6px;stroke-linejoin:round">50.000</text>
<text transform="translate(1501.47,2259.02) rotate(-45) scale(1,1.03)" style="font-family:&quot;Liberation Sans&quot;,Arial,sans-serif;font-weight:bold;font-size:61.0px;letter-spacing:0.46px;stroke:#fff;stroke-width:0.6px;stroke-linejoin:round">100.000</text>
<text transform="translate(1731.99,2264.98) rotate(-45) scale(1,1.03)" style="font-family:&quot;Liberation Sans&quot;,Arial,sans-serif;font-weight:bold;font-size:61.0px;letter-spacing:1.83px;stroke:#fff;stroke-width:0.6px;stroke-linejoin:round">200.000</text>
<rect x="1553.70" y="74.90" width="70.10" height="34.90" fill="#000" />
<rect x="1558.90" y="80.10" width="57.20" height="21.70" fill="#fff" />
<g transform="translate(1553.70,74.90)"><rect x="5.2" y="7.3" width="57.20" height="19.60" fill="url(#dots)"/></g>
<text transform="translate(1662.52,109.50) scale(1,1.04)" style="font-family:&quot;Liberation Sans&quot;,Arial,sans-serif;font-weight:normal;font-size:54.6px;stroke:#fff;stroke-width:0.5px;stroke-linejoin:round">Rutin</text>
<rect x="1553.70" y="161.40" width="70.10" height="34.70" fill="#000" />
<rect x="1558.90" y="169.10" width="54.40" height="21.80" fill="#fff" />
<g transform="translate(1553.70,161.40)"><rect x="5.2" y="7.7" width="52.90" height="21.80" fill="url(#gridA)"/></g>
<text transform="translate(1662.63,196.00) scale(1,1.04)" style="font-family:&quot;Liberation Sans&quot;,Arial,sans-serif;font-weight:normal;font-size:55.3px;stroke:#fff;stroke-width:0.5px;stroke-linejoin:round">ZnO-R NPs</text>
<rect x="1553.70" y="250.50" width="70.10" height="34.60" fill="#000" />
<rect x="1558.90" y="255.90" width="57.20" height="24.00" fill="#fff" />
<g transform="translate(1553.70,245.50)"><rect x="5.2" y="10.4" width="57.20" height="24.00" fill="url(#hatch)"/></g>
<text transform="translate(1662.62,285.00) scale(1,1.04)" style="font-family:&quot;Liberation Sans&quot;,Arial,sans-serif;font-weight:normal;font-size:55.6px;stroke:#fff;stroke-width:0.5px;stroke-linejoin:round">ZnO Std NPs</text>
</svg>
</body></html>
